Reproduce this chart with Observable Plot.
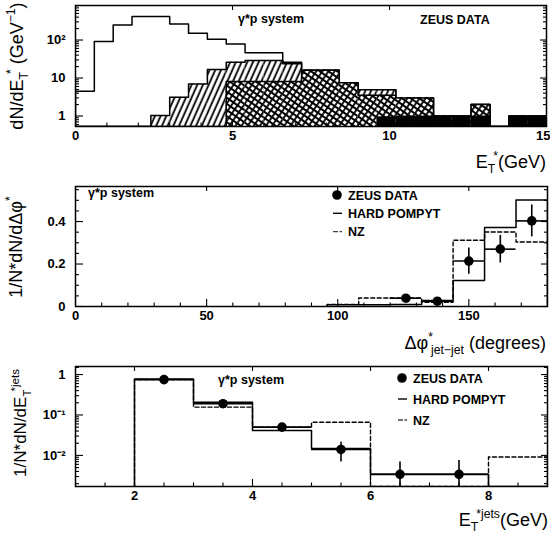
<!DOCTYPE html>
<html><head><meta charset="utf-8">
<script src="https://cdn.jsdelivr.net/npm/d3@7"></script>
<script src="https://cdn.jsdelivr.net/npm/@observablehq/plot@0.6"></script>
<style>
body{margin:0;background:#fff;}
#chart svg{display:block;}
</style></head><body><div id="chart"></div>
<script>
// ---------- Panel 1: E_T* of the gamma*p system ----------
const etBinLeft = [0,0.6,1.2,1.8,2.4,3.0,3.6,4.2,4.8,5.4,6.0,6.6,7.2,7.8,8.4,9.0,9.6,10.2,10.8,11.4,12.0,12.6,13.2,13.8,14.4];
const etBinWidth = 0.6;
const etAll     = [4.5,92,250,415,415,265,150,105,78,46,46,26,16,16,7.5,4.9,4.9,3.0,3.0,1.0,1.0,2.0,null,1.0,1.0];
const etHatched = [null,null,null,null,1.03,3.1,7.0,16.7,26,29,29,23.6,16,16,7.5,4.9,4.9,3.0,3.0,1.0,1.0,2.0,null,1.0,1.0];
const etCross   = [null,null,null,null,null,null,null,null,8.1,8.1,8.1,8.1,16,16,7.5,3.5,3.5,3.0,3.0,1.0,1.0,2.0,null,1.0,1.0];
const etBlack   = [null,null,null,null,null,null,null,null,null,null,null,null,null,null,null,null,0.95,1.0,1.0,1.0,1.0,1.0,null,1.0,1.0];
const etXTicks = [0,5,10,15];
const etXMinor = [1,2,3,4,6,7,8,9,11,12,13,14];
const etYTicks = [1,10,100];
const etYTickLabels = ["1","10","10\u00B2"];
const etYMinor = [0.6,0.7,0.8,0.9,2,3,4,5,6,7,8,9,20,30,40,50,60,70,80,90,200,300,400,500,600,700,800];

// ---------- Panel 2: delta phi jet-jet ----------
const dphiBinLeft = [96,108,120,132,144,156,168];
const dphiBinWidth = 12;
const dphiPompyt = [0.008,0.008,0.01,0.028,0.123,0.372,0.501];
const dphiNZ     = [0.01,0.04,0.04,0.02,0.312,0.351,0.304];
const dphiDataX   = [126,138,150,162,174];
const dphiDataY   = [0.039,0.025,0.214,0.270,0.403];
const dphiDataErr = [0.008,0.006,0.062,0.065,0.075];
const dphiXTicks = [0,50,100,150];
const dphiXMinor = [10,20,30,40,60,70,80,90,110,120,130,140,160,170];
const dphiYTicks = [0,0.2,0.4];
const dphiYMinor = [0.05,0.1,0.15,0.25,0.3,0.35,0.45,0.5,0.55];

// ---------- Panel 3: E_T^jets ----------
const jetBinLeft = [2,3,4,5,6,7,8];
const jetBinWidth = 1;
const jetPompyt = [0.78,0.207,0.041,0.0147,0.0034,0.0034,null];
const jetNZ     = [0.75,0.156,0.05,0.066,null,null,0.0091];
const jetDataX  = [2.5,3.5,4.5,5.5,6.5,7.5];
const jetDataY  = [0.75,0.19,0.05,0.014,0.0034,0.0034];
const jetDataLo = [0.70,0.17,0.042,0.0069,null,null];
const jetDataHi = [0.80,0.21,0.060,0.021,0.0069,0.0075];
const jetXTicks = [2,4,6,8];
const jetXMinor = [1.5,2.5,3,3.5,4.5,5,5.5,6.5,7,7.5,8.5];
const jetYTicks = [1,0.1,0.01];
const jetYTickLabels = ["1","10\u207B\u00B9","10\u207B\u00B2"];
const jetYMinor = [0.002,0.003,0.004,0.005,0.006,0.007,0.008,0.009,0.02,0.03,0.04,0.05,0.06,0.07,0.08,0.09,0.2,0.3,0.4,0.5,0.6,0.7,0.8,0.9,1.5];

const FONT = "Liberation Sans, Arial, Helvetica, sans-serif";

function steps(left, w, vals, base) {
  const pts = [{x: left[0], y: base}];
  left.forEach((l, i) => pts.push({x: l, y: vals[i] ?? base}));
  const end = left[left.length - 1] + w;
  pts.push({x: end, y: vals[vals.length - 1] ?? base});
  pts.push({x: end, y: base});
  return pts;
}
function idx(vals) { return d3.range(vals.length).filter(i => vals[i] != null); }

function tickMarks(xMajor, xMinor, yMajor, yMinor, plotW, plotH, yFmt, xDomainMax) {
  const m = [];
  const sw = 1.1;
  m.push(Plot.tickX(xMajor, {x: d => d, insetTop: plotH - 7, strokeWidth: sw}));
  m.push(Plot.tickX(xMinor, {x: d => d, insetTop: plotH - 3.5, strokeWidth: sw}));
  m.push(Plot.tickX(xMajor, {x: d => d, insetBottom: plotH - 5, strokeWidth: sw}));
  m.push(Plot.tickY(yMajor, {y: d => d, insetRight: plotW - 8, strokeWidth: sw}));
  m.push(Plot.tickY(yMinor, {y: d => d, insetRight: plotW - 4, strokeWidth: sw}));
  m.push(Plot.tickY(yMajor, {y: d => d, insetLeft: plotW - 6, strokeWidth: sw}));
  m.push(Plot.tickY(yMinor, {y: d => d, insetLeft: plotW - 3, strokeWidth: sw}));
  const inner = xMajor.filter(d => d !== xDomainMax);
  const edge = xMajor.filter(d => d === xDomainMax);
  m.push(Plot.axisX(inner, {tickSize: 0, tickPadding: 4, fontWeight: "bold", fontSize: 13, label: null}));
  if (edge.length) m.push(Plot.text(edge, {x: d => d, frameAnchor: "bottom", lineAnchor: "top", dy: 4, dx: 4, textAnchor: "end", fontWeight: "bold", fontSize: 13}));
  m.push(Plot.axisY(yMajor, {tickSize: 0, tickPadding: 10, fontWeight: "bold", fontSize: 13, label: null, tickFormat: yFmt}));
  return m;
}

function rich(svg, x, y, parts, o) {
  const size = o.size;
  const t = d3.select(svg).append("text")
    .attr("transform", `translate(${x},${y})` + (o.rotate ? ` rotate(${o.rotate})` : ""))
    .attr("text-anchor", o.anchor || "start")
    .attr("font-size", size).attr("font-family", FONT)
    .attr("font-weight", o.weight || "normal").attr("fill", "black");
  let off = 0;
  for (const p of parts) {
    const target = p.sub ? size * 0.3 : p.sup ? -size * 0.42 : 0;
    const s = t.append("tspan").attr("dy", target - off).text(p.t);
    if (p.sub || p.sup) s.attr("font-size", size * 0.68);
    if (p.dx) s.attr("dx", p.dx);
    off = target;
  }
  return t;
}
function label(svg, x, y, str, size, weight, anchor) {
  d3.select(svg).append("text").attr("x", x).attr("y", y).attr("font-family", FONT)
    .attr("font-size", size).attr("font-weight", weight || "bold").attr("text-anchor", anchor || "start")
    .attr("fill", "black").text(str);
}
function legend(svg, x, y0, dy) {
  const g = d3.select(svg);
  g.append("circle").attr("cx", x + 4).attr("cy", y0).attr("r", 4.8).attr("fill", "black");
  g.append("line").attr("x1", x).attr("x2", x + 9).attr("y1", y0 + dy).attr("y2", y0 + dy).attr("stroke", "black").attr("stroke-width", 1.4);
  g.append("line").attr("x1", x).attr("x2", x + 9).attr("y1", y0 + 2 * dy).attr("y2", y0 + 2 * dy).attr("stroke", "#444").attr("stroke-width", 1.4).attr("stroke-dasharray", "5,1.5");
  label(svg, x + 15, y0 + 4.5, "ZEUS DATA", 12.5);
  label(svg, x + 15, y0 + dy + 4.5, "HARD POMPYT", 12.5);
  label(svg, x + 15, y0 + 2 * dy + 4.5, "NZ", 12.5);
}

const style = {fontFamily: FONT, color: "black", background: "white", overflow: "visible"};

// ---------- Panel 1 ----------
const p1H = 180, p1T = 5, p1B = 54, p1L = 75, p1R = 4;
const etBase = 0.53;
const p1 = Plot.plot({
  width: 550, height: p1H, marginTop: p1T, marginBottom: p1B, marginLeft: p1L, marginRight: p1R,
  style,
  x: {domain: [0, 15]},
  y: {type: "log", domain: [etBase, 810]},
  marks: [
    Plot.line(steps(etBinLeft, etBinWidth, etAll, etBase), {x: "x", y: "y", curve: "step-after", stroke: "black", strokeWidth: 1.5, clip: true}),
    Plot.rect(idx(etHatched), {x1: i => etBinLeft[i], x2: i => etBinLeft[i] + etBinWidth, y1: etBase, y2: i => etHatched[i], fill: "url(#hatch)", clip: true}),
    Plot.line(steps(etBinLeft, etBinWidth, etHatched, etBase), {x: "x", y: "y", curve: "step-after", stroke: "black", strokeWidth: 1.5, clip: true}),
    Plot.rect(idx(etCross), {x1: i => etBinLeft[i], x2: i => etBinLeft[i] + etBinWidth, y1: etBase, y2: i => etCross[i], fill: "url(#cross)", clip: true}),
    Plot.line(steps(etBinLeft, etBinWidth, etCross, etBase), {x: "x", y: "y", curve: "step-after", stroke: "black", strokeWidth: 1.5, clip: true}),
    Plot.rect(idx(etBlack), {x1: i => etBinLeft[i], x2: i => etBinLeft[i] + etBinWidth, y1: etBase, y2: i => etBlack[i], fill: "black", clip: true}),
    ...tickMarks(etXTicks, etXMinor, etYTicks, etYMinor, 550 - p1L - p1R, p1H - p1T - p1B, d => etYTickLabels[etYTicks.indexOf(d)], 15),
    Plot.frame({strokeWidth: 1.5})
  ]
});
d3.select(p1).insert("defs", ":first-child").html(
  '<pattern id="hatch" patternUnits="userSpaceOnUse" width="5.2" height="10" patternTransform="rotate(24)">' +
  '<rect width="5.2" height="10" fill="white"/><line x1="1.5" y1="-1" x2="1.5" y2="11" stroke="black" stroke-width="1.8"/></pattern>' +
  '<pattern id="cross" patternUnits="userSpaceOnUse" width="5" height="5" patternTransform="rotate(35)">' +
  '<rect width="5" height="5" fill="white"/><path d="M0,0H5M0,0V5M0,5H5M5,0V5" stroke="black" stroke-width="1.8"/></pattern>'
);
label(p1, 238, 23, "\u03B3*p system", 12.5);
label(p1, 420, 24, "ZEUS DATA", 12.5);
rich(p1, 546, 168, [{t: "E"}, {t: "T", sub: true}, {t: "*", sup: true, dx: -2}, {t: "(GeV)"}], {size: 18, anchor: "end"});
rich(p1, 23, 66, [{t: "dN/dE"}, {t: "T", sub: true}, {t: "*", sup: true, dx: -2}, {t: " (GeV"}, {t: "\u22121", sup: true}, {t: ")"}], {size: 18, anchor: "middle", rotate: -90});

// ---------- Panel 2 ----------
const p2H = 180, p2T = 6, p2B = 54, p2L = 75, p2R = 3;
const p2 = Plot.plot({
  width: 550, height: p2H, marginTop: p2T, marginBottom: p2B, marginLeft: p2L, marginRight: p2R,
  style,
  x: {domain: [0, 180]},
  y: {domain: [0, 0.565]},
  marks: [
    Plot.line(steps(dphiBinLeft, dphiBinWidth, dphiNZ, 0), {x: "x", y: "y", curve: "step-after", stroke: "black", strokeWidth: 1.4, strokeDasharray: "4,2.5", clip: true}),
    Plot.line(steps(dphiBinLeft, dphiBinWidth, dphiPompyt, 0), {x: "x", y: "y", curve: "step-after", stroke: "black", strokeWidth: 1.5, clip: true}),
    Plot.ruleY(d3.range(dphiDataX.length), {y: i => dphiDataY[i], x1: i => dphiDataX[i] - dphiBinWidth / 2, x2: i => dphiDataX[i] + dphiBinWidth / 2, strokeWidth: 1.6}),
    Plot.ruleX(d3.range(dphiDataX.length), {x: i => dphiDataX[i], y1: i => dphiDataY[i] - dphiDataErr[i], y2: i => dphiDataY[i] + dphiDataErr[i], strokeWidth: 1.6}),
    Plot.dot(d3.range(dphiDataX.length), {x: i => dphiDataX[i], y: i => dphiDataY[i], r: 4.8, fill: "black"}),
    ...tickMarks(dphiXTicks, dphiXMinor, dphiYTicks, dphiYMinor, 550 - p2L - p2R, p2H - p2T - p2B, d => d === 0 ? "0" : d.toFixed(1), 180),
    Plot.frame({strokeWidth: 1.5})
  ]
});
label(p2, 88, 17, "\u03B3*p system", 12.5);
legend(p2, 333, 15, 18.3);
rich(p2, 546, 169, [{t: "\u0394\u03C6"}, {t: "*", sup: true}, {t: "jet\u2212jet", sub: true, dx: -2}, {t: " (degrees)"}], {size: 18, anchor: "end"});
rich(p2, 22, 67, [{t: "1/N*dN/d\u0394\u03C6"}, {t: "*", sup: true}], {size: 18, anchor: "middle", rotate: -90});

// ---------- Panel 3 ----------
const p3H = 174, p3T = 6, p3B = 48, p3L = 75, p3R = 3;
const jetBase = 0.0017;
const p3 = Plot.plot({
  width: 550, height: p3H, marginTop: p3T, marginBottom: p3B, marginLeft: p3L, marginRight: p3R,
  style,
  x: {domain: [1, 9]},
  y: {type: "log", domain: [jetBase, 1.58]},
  marks: [
    Plot.line(steps(jetBinLeft, jetBinWidth, jetNZ, jetBase), {x: "x", y: "y", curve: "step-after", stroke: "black", strokeWidth: 1.4, strokeDasharray: "4,2.5", clip: true}),
    Plot.line(steps(jetBinLeft, jetBinWidth, jetPompyt, jetBase), {x: "x", y: "y", curve: "step-after", stroke: "black", strokeWidth: 1.5, clip: true}),
    Plot.ruleY(d3.range(jetDataX.length), {y: i => jetDataY[i], x1: i => jetDataX[i] - jetBinWidth / 2, x2: i => jetDataX[i] + jetBinWidth / 2, strokeWidth: 1.6}),
    Plot.ruleX(d3.range(jetDataX.length), {x: i => jetDataX[i], y1: i => jetDataLo[i] ?? jetBase, y2: i => jetDataHi[i], strokeWidth: 1.6, clip: true}),
    Plot.dot(d3.range(jetDataX.length), {x: i => jetDataX[i], y: i => jetDataY[i], r: 4.8, fill: "black"}),
    ...tickMarks(jetXTicks, jetXMinor, jetYTicks, jetYMinor, 550 - p3L - p3R, p3H - p3T - p3B, d => jetYTickLabels[jetYTicks.indexOf(d)], 9),
    Plot.frame({strokeWidth: 1.5})
  ]
});
label(p3, 218, 24, "\u03B3*p system", 12.5);
legend(p3, 398, 18, 21);
rich(p3, 548, 166, [{t: "E"}, {t: "T", sub: true}, {t: "*jets", sup: true, dx: -2}, {t: "(GeV)"}], {size: 18, anchor: "end"});
rich(p3, 26, 63, [{t: "1/N*dN/dE"}, {t: "T", sub: true}, {t: "*jets", sup: true, dx: -2}], {size: 17, anchor: "middle", rotate: -90});

const chart = document.getElementById("chart");
chart.append(p1, p2, p3);
</script>
</body></html>
